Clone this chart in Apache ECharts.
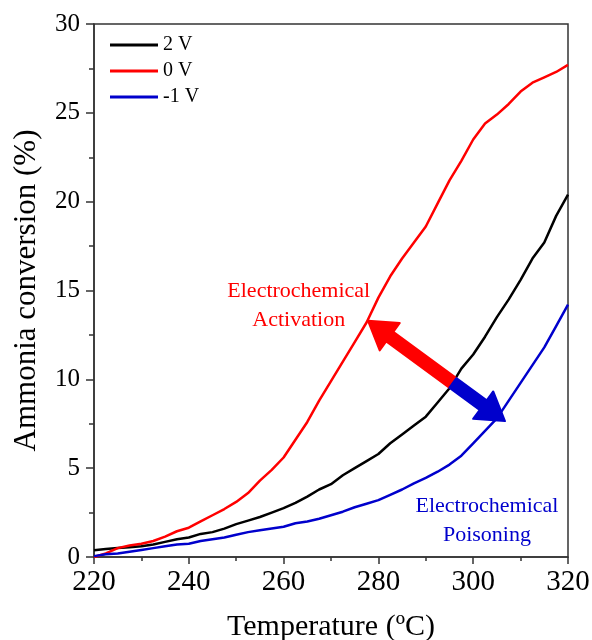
<!DOCTYPE html>
<html>
<head>
<meta charset="utf-8">
<script src="https://cdn.jsdelivr.net/npm/echarts@6/dist/echarts.min.js"></script>
<style>
html,body{margin:0;padding:0;background:#fff;}
#main{width:592px;height:640px;}
</style>
</head>
<body>
<div id="main"></div>
<script>
// Temperature (°C)
const temps = [220,222.5,225,227.5,230,232.5,235,237.5,240,242.5,245,247.5,250,252.5,255,257.5,260,262.5,265,267.5,270,272.5,275,277.5,280,282.5,285,287.5,290,292.5,295,297.5,300,302.5,305,307.5,310,312.5,315,317.5,320];
// Ammonia conversion (%) at 2 V
const v2 = [0.38,0.45,0.5,0.55,0.6,0.7,0.85,1.0,1.1,1.3,1.4,1.6,1.85,2.05,2.25,2.5,2.75,3.05,3.4,3.8,4.1,4.6,5.0,5.4,5.8,6.4,6.9,7.4,7.9,8.7,9.5,10.6,11.4,12.4,13.5,14.5,15.6,16.8,17.7,19.2,20.4];
// Ammonia conversion (%) at 0 V
const v0 = [0.0,0.2,0.5,0.65,0.75,0.9,1.15,1.45,1.65,2.0,2.35,2.7,3.1,3.6,4.3,4.9,5.6,6.6,7.6,8.8,9.9,11.0,12.1,13.2,14.6,15.8,16.8,17.7,18.6,19.9,21.2,22.3,23.5,24.4,24.9,25.5,26.2,26.7,27.0,27.3,27.7];
// Ammonia conversion (%) at -1 V
const vm1 = [0.05,0.15,0.2,0.3,0.4,0.5,0.6,0.7,0.75,0.9,1.0,1.1,1.25,1.4,1.5,1.6,1.7,1.9,2.0,2.15,2.35,2.55,2.8,3.0,3.2,3.5,3.8,4.15,4.45,4.8,5.2,5.7,6.4,7.1,7.8,8.8,9.8,10.8,11.8,13.0,14.2];

const seriesNames = ['2 V','0 V','-1 V'];
const seriesColors = ['#000000','#ff0000','#0000cc'];

// annotation arrows (data coordinates): start point, red tip, blue tip
const arrowStart = [295.7, 9.8];
const arrowRedTip = [277.8, 13.3];
const arrowBlueTip = [306.7, 7.65];
// annotation texts (data coordinates of centre)
const annotations = [
  {text:'Electrochemical\nActivation', pos:[263.2, 14.15], color:'#ff0000'},
  {text:'Electrochemical\nPoisoning', pos:[302.9, 2.05], color:'#0000cc'}
];

const FONT = '"Liberation Serif","Times New Roman",serif';

function pairs(xs, ys){ return xs.map((x,i)=>[x, ys[i]]); }

const chart = echarts.init(document.getElementById('main'), null, {renderer:'canvas'});

const lineSeries = [v2, v0, vm1].map((vals, i) => ({
  name: seriesNames[i],
  type: 'line',
  data: pairs(temps, vals),
  showSymbol: false,
  symbol: 'none',
  lineStyle: {color: seriesColors[i], width: 2.5},
  itemStyle: {color: seriesColors[i]},
  z: 3
}));

function arrowPoly(p0, p1, w, L, H){
  const dx = p1[0]-p0[0], dy = p1[1]-p0[1];
  const len = Math.sqrt(dx*dx+dy*dy);
  const ux = dx/len, uy = dy/len;
  const nx = -uy, ny = ux;
  const bx = p1[0]-ux*L, by = p1[1]-uy*L;
  return [
    [p0[0]+nx*w/2, p0[1]+ny*w/2],
    [bx+nx*w/2, by+ny*w/2],
    [bx+nx*H, by+ny*H],
    [p1[0], p1[1]],
    [bx-nx*H, by-ny*H],
    [bx-nx*w/2, by-ny*w/2],
    [p0[0]-nx*w/2, p0[1]-ny*w/2]
  ];
}

const arrowSeries = {
  type: 'custom',
  silent: true,
  z: 5,
  data: [[arrowStart[0], arrowStart[1], arrowRedTip[0], arrowRedTip[1], 0], [arrowStart[0], arrowStart[1], arrowBlueTip[0], arrowBlueTip[1], 1]],
  renderItem: function(params, api){
    const p0 = api.coord([api.value(0), api.value(1)]);
    const p1 = api.coord([api.value(2), api.value(3)]);
    const col = api.value(4) === 0 ? '#ff0000' : '#0000cc';
    return {
      type: 'polygon',
      shape: {points: arrowPoly(p0, p1, 12, 27, 17)},
      style: {fill: col, stroke: col, lineWidth: 2, lineJoin: 'round'}
    };
  }
};

const textSeries = {
  type: 'custom',
  silent: true,
  z: 6,
  data: annotations.map(a => [a.pos[0], a.pos[1]]),
  renderItem: function(params, api){
    const a = annotations[params.dataIndex];
    const p = api.coord([api.value(0), api.value(1)]);
    return {
      type: 'text',
      x: p[0], y: p[1],
      style: {text: a.text, fill: a.color, font: '22px ' + FONT, align: 'center', verticalAlign: 'middle', lineHeight: 29}
    };
  }
};

chart.setOption({
  animation: false,
  backgroundColor: '#ffffff',
  grid: {left: 94, right: 24, top: 24, bottom: 83, show: true, borderColor: '#333', borderWidth: 1.5, backgroundColor: 'transparent', outerBoundsMode: 'none', containLabel: false},
  legend: {
    data: seriesNames,
    orient: 'vertical',
    left: 110, top: 35,
    icon: 'rect',
    itemWidth: 48, itemHeight: 3,
    itemGap: 6,
    textStyle: {fontFamily: FONT, fontSize: 20, color: '#000', padding: [0,0,0,0]},
    padding: 0
  },
  xAxis: {
    type: 'value', min: 220, max: 320, interval: 20,
    name: 'Temperature (ºC)', nameLocation: 'middle', nameGap: 55,
    nameTextStyle: {fontFamily: FONT, fontSize: 30, color: '#000'},
    axisLine: {show: true, onZero: false, lineStyle: {color: '#333', width: 1.5}},
    axisTick: {show: true, inside: false, length: 7, lineStyle: {color: '#333', width: 1.5}},
    minorTick: {show: true, splitNumber: 2, length: 4, lineStyle: {color: '#333', width: 1.5}},
    axisLabel: {fontFamily: FONT, fontSize: 29, color: '#000', margin: 11},
    splitLine: {show: false}
  },
  yAxis: {
    type: 'value', min: 0, max: 30, interval: 5,
    name: 'Ammonia conversion (%)', nameLocation: 'middle', nameGap: 52,
    nameTextStyle: {fontFamily: FONT, fontSize: 31, color: '#000'},
    axisLine: {show: true, onZero: false, lineStyle: {color: '#333', width: 1.5}},
    axisTick: {show: true, inside: false, length: 8, lineStyle: {color: '#333', width: 1.5}},
    minorTick: {show: true, splitNumber: 2, length: 5, lineStyle: {color: '#333', width: 1.5}},
    axisLabel: {fontFamily: FONT, fontSize: 25, color: '#000', margin: 14},
    splitLine: {show: false}
  },
  series: lineSeries.concat([arrowSeries, textSeries])
});
</script>
</body>
</html>
